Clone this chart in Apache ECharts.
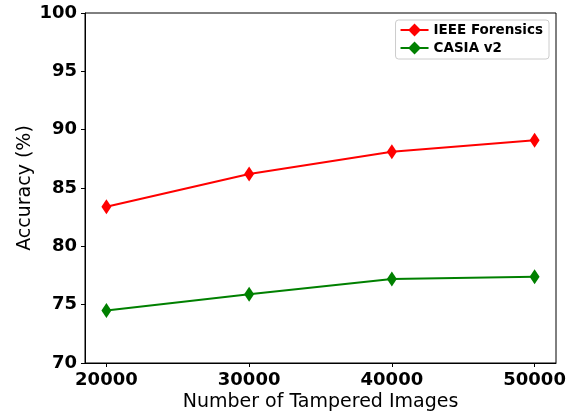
<!DOCTYPE html>
<html>
<head>
<meta charset="utf-8">
<script src="https://cdn.jsdelivr.net/npm/echarts@6/dist/echarts.min.js"></script>
<style>html,body{margin:0;padding:0;background:#fff}#c{width:575px;height:415px}</style>
</head>
<body>
<div id="c"></div>
<script>
const categories = [20000, 30000, 40000, 50000];
const ieeeForensics = [83.4, 86.2, 88.1, 89.1];
const casiaV2 = [74.5, 75.9, 77.2, 77.4];
const xTicks = [20000, 30000, 40000, 50000];
const yTicks = [70, 75, 80, 85, 90, 95, 100];

const chart = echarts.init(document.getElementById('c'));
const font = 'DejaVu Sans';
chart.setOption({
  animation: false,
  backgroundColor: '#fff',
  grid: {left: 85, right: 19, top: 13, bottom: 52, outerBoundsMode: 'none', containLabel: false,
         show: true, borderColor: '#000', borderWidth: 1},
  legend: {
    orient: 'vertical', right: 26, top: 20,
    padding: [3, 6, 4, 4], itemGap: 4,
    itemWidth: 28, itemHeight: 16,
    borderColor: '#ccc', borderWidth: 1, borderRadius: 3,
    textStyle: {fontFamily: font, fontWeight: 'bold', fontSize: 13.5, color: '#000'},
    data: ['IEEE Forensics', 'CASIA v2']
  },
  xAxis: {
    type: 'value', min: 18500, max: 51500,
    name: 'Number of Tampered Images', nameLocation: 'middle', nameGap: 30, nameMoveOverlap: false,
    nameTextStyle: {fontFamily: font, fontSize: 19, color: '#000'},
    axisLine: {show: true, lineStyle: {color: '#000'}},
    axisTick: {show: true, customValues: xTicks, length: 4, lineStyle: {color: '#000'}},
    axisLabel: {customValues: xTicks, formatter: v => String(v), fontFamily: font, fontWeight: 'bold', fontSize: 18, color: '#000', margin: 8},
    splitLine: {show: false}
  },
  yAxis: {
    type: 'value', min: 70, max: 100, interval: 5,
    name: 'Accuracy (%)', nameLocation: 'middle', nameGap: 50, nameMoveOverlap: false,
    nameTextStyle: {fontFamily: font, fontSize: 19, color: '#000'},
    axisLine: {show: true, lineStyle: {color: '#000'}},
    axisTick: {show: true, length: 4, lineStyle: {color: '#000'}},
    axisLabel: {formatter: v => String(v), fontFamily: font, fontWeight: 'bold', fontSize: 18, color: '#000', margin: 8},
    splitLine: {show: false}
  },
  series: [
    {name: 'IEEE Forensics', type: 'line', color: '#ff0000',
     data: categories.map((c, i) => [c, ieeeForensics[i]]),
     symbol: 'diamond', symbolSize: [10, 15], lineStyle: {width: 2}},
    {name: 'CASIA v2', type: 'line', color: '#008000',
     data: categories.map((c, i) => [c, casiaV2[i]]),
     symbol: 'diamond', symbolSize: [10, 15], lineStyle: {width: 2}}
  ]
});
</script>
</body>
</html>
